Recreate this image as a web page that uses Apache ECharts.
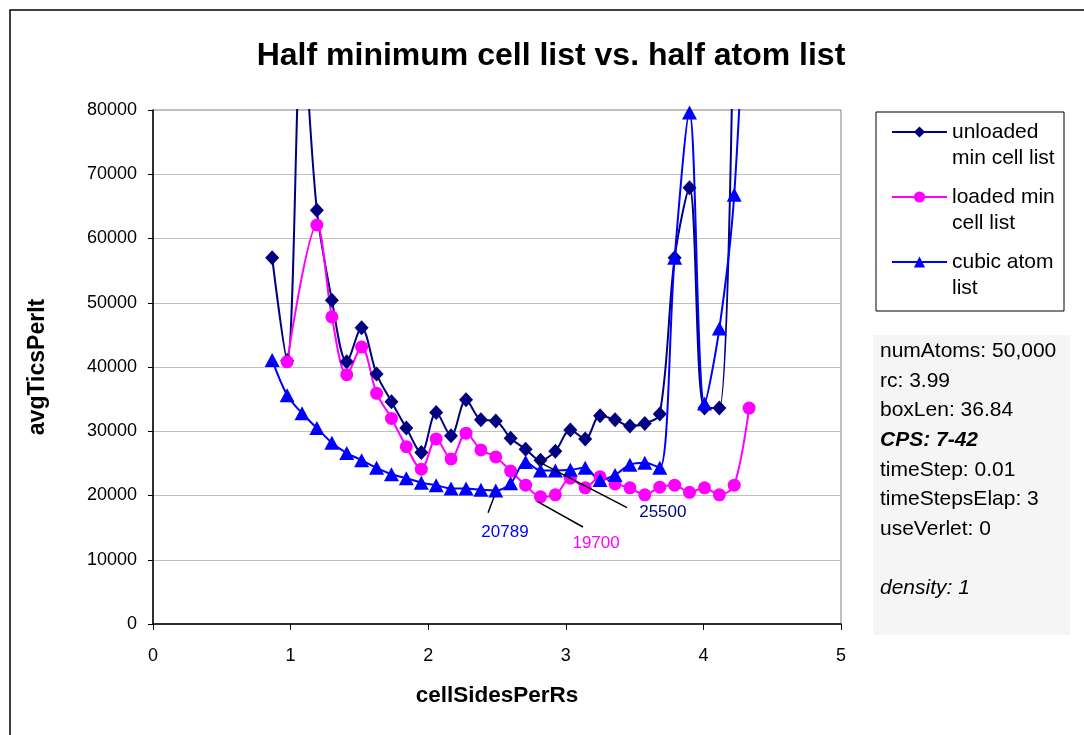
<!DOCTYPE html>
<html>
<head>
<meta charset="utf-8">
<script src="https://cdn.jsdelivr.net/npm/echarts@6/dist/echarts.min.js"></script>
<style>
html,body{margin:0;padding:0;background:#fff;}
#chart{width:1084px;height:735px;}
</style>
</head>
<body>
<div id="chart"></div>
<script>
// ---- data ----
const xValues = [0.866,0.975,1.083,1.191,1.300,1.408,1.516,1.625,1.733,1.841,1.950,2.058,2.166,2.275,2.383,2.491,2.599,2.708,2.816,2.924,3.033,3.141,3.249,3.358,3.466,3.574,3.683,3.791,3.899,4.008,4.116,4.224,4.332];
const unloaded = [57000,41000,93000,64400,50400,40800,46100,38900,34600,30500,26700,32900,29300,34900,31800,31600,28900,27200,25500,26900,30200,28800,32400,31800,30800,31200,32700,57000,67900,33600,33600,105000,null];
const loaded = [null,40800,null,62100,47800,38800,43100,35900,32000,27600,24100,28800,25700,29700,27100,26000,23800,21600,19800,20100,22700,21200,22900,21800,21200,20100,21300,21600,20500,21200,20100,21600,33600];
const cubic = [41100,35600,32800,30500,28200,26600,25500,24300,23300,22700,22000,21600,21100,21100,20900,20789,21900,25200,23900,23900,24000,24300,22400,23200,24800,25100,24300,57000,79600,34300,46000,66800,115000];
const seriesNames = ['unloaded\nmin cell list','loaded min\ncell list','cubic atom\nlist'];
const xTicks = [0,1,2,3,4,5];
const yTicks = [0,10000,20000,30000,40000,50000,60000,70000,80000];
// annotations: label text, leader line start/end, label position (data space)
const annCubic = {text:'20789', from:[2.478,19770], to:[2.435,17300], at:[2.558,14300]};
const annLoaded = {text:'19700', from:[2.798,19000], to:[3.125,15100], at:[3.22,12600]};
const annUnloaded = {text:'25500', from:[2.79,25400], to:[3.445,18100], at:[3.705,17400]};
const infoLines = [
  {t:'numAtoms: 50,000'},{t:'rc: 3.99'},{t:'boxLen: 36.84'},{t:'CPS: 7-42', s:'italic', w:'bold'},
  {t:'timeStep: 0.01'},{t:'timeStepsElap: 3'},{t:'useVerlet: 0'},{t:''},{t:'density: 1', s:'italic'}
];

const FONT = '"Liberation Sans", Arial, sans-serif';
const pairs = arr => xValues.map((x,i)=>[x, arr[i]]);

function annotate(a, color){
  return {
    markLine: {
      silent:true, symbol:'none', animation:false,
      lineStyle:{color:'#000', width:1.5, type:'solid'},
      label:{show:false},
      data:[[{coord:a.from},{coord:a.to}]]
    },
    markPoint: {
      silent:true, animation:false, symbol:'circle', symbolSize:1,
      itemStyle:{color:'rgba(0,0,0,0)'},
      label:{show:true, position:'inside', formatter:a.text, color:color, fontSize:17, fontFamily:FONT},
      data:[{coord:a.at}]
    }
  };
}

const chart = echarts.init(document.getElementById('chart'), null, {renderer:'canvas'});

const infoGraphics = infoLines.map((l,i)=>({
  type:'text', left: 880, top: 352 + i*29.6 - 11,
  style:{text:l.t, font:(l.s||'normal')+' '+(l.w||'normal')+' 21px '+FONT, fill:'#000'}
}));

chart.setOption({
  animation:false,
  backgroundColor:'#fff',
  title:{text:'Half minimum cell list vs. half atom list', left:551, top:40, padding:0, textAlign:'center',
    textStyle:{fontSize:32, fontWeight:'bold', fontFamily:FONT, color:'#000'}},
  graphic:[
    {type:'rect', shape:{x:10, y:10, width:1200, height:900}, style:{fill:'none', stroke:'#000', lineWidth:1.5}, z:-10},
    {type:'rect', shape:{x:876, y:112, width:188, height:199}, style:{fill:'#fff', stroke:'#000', lineWidth:1}, z:-5},
    {type:'rect', shape:{x:873, y:335, width:197, height:300}, style:{fill:'#f5f5f5', stroke:'none'}, z:-5},
    ...infoGraphics
  ],
  legend:{
    orient:'vertical', left:891, top:93, padding:0, itemWidth:55, itemHeight:14, itemGap:-13,
    data:seriesNames,
    formatter: name => '\n' + name,
    textStyle:{fontSize:21, lineHeight:26, fontFamily:FONT, color:'#000'}
  },
  grid:{left:153, top:110, width:688, height:514, show:true, borderColor:'#808080', borderWidth:1, backgroundColor:'#fff'},
  xAxis:{
    type:'value', min:xTicks[0], max:xTicks[xTicks.length-1], interval:1,
    name:'cellSidesPerRs', nameLocation:'middle', nameGap:60,
    nameTextStyle:{fontSize:22.5, fontWeight:'bold', fontFamily:FONT, color:'#000'},
    axisLine:{show:true, onZero:false, lineStyle:{color:'#000', width:1.5}},
    axisTick:{show:true, inside:false, length:6, lineStyle:{color:'#000'}},
    axisLabel:{fontSize:18, fontFamily:FONT, color:'#000', margin:23},
    splitLine:{show:false}
  },
  yAxis:{
    type:'value', min:yTicks[0], max:yTicks[yTicks.length-1], interval:10000,
    name:'avgTicsPerIt', nameLocation:'middle', nameGap:104,
    nameTextStyle:{fontSize:23, fontWeight:'bold', fontFamily:FONT, color:'#000'},
    axisLine:{show:true, lineStyle:{color:'#000', width:1.5}},
    axisTick:{show:true, inside:false, length:5, lineStyle:{color:'#000'}},
    axisLabel:{fontSize:18, fontFamily:FONT, color:'#000', margin:16, formatter: v => String(v)},
    splitLine:{show:true, showMaxLine:false, lineStyle:{color:'#c0c0c0', width:1}}
  },
  series:[
    Object.assign({
      name:seriesNames[0], type:'line', data:pairs(unloaded), smooth:0.33, connectNulls:false,
      symbol:'diamond', symbolSize:[14,15],
      lineStyle:{color:'#000080', width:2}, itemStyle:{color:'#000080'}
    }, annotate(annUnloaded,'#000080')),
    Object.assign({
      name:seriesNames[1], type:'line', data:pairs(loaded), smooth:0.33, connectNulls:true,
      symbol:'circle', symbolSize:13,
      lineStyle:{color:'#FF00FF', width:2}, itemStyle:{color:'#FF00FF'}
    }, annotate(annLoaded,'#FF00FF')),
    Object.assign({
      name:seriesNames[2], type:'line', data:pairs(cubic), smooth:0.33,
      symbol:'triangle', symbolSize:[15,14],
      lineStyle:{color:'#0000FF', width:2}, itemStyle:{color:'#0000FF'}
    }, annotate(annCubic,'#0000FF'))
  ]
});
</script>
</body>
</html>
